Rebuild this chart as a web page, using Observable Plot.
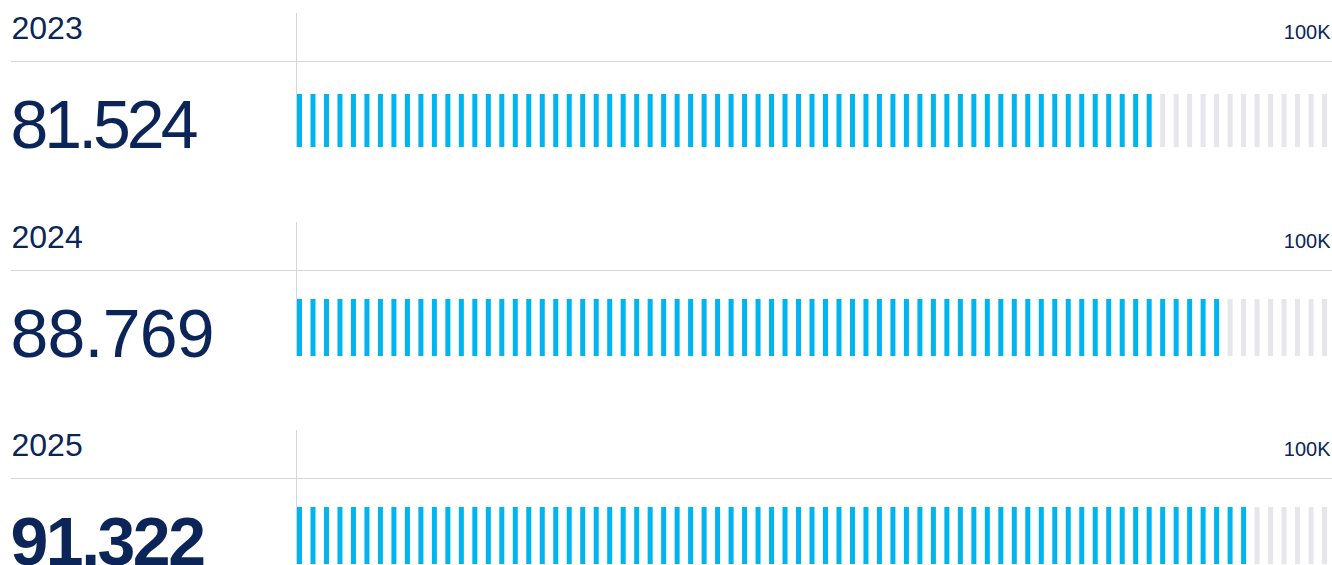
<!DOCTYPE html>
<html><head><meta charset="utf-8">
<script src="https://cdn.jsdelivr.net/npm/d3@7"></script>
<script src="https://cdn.jsdelivr.net/npm/@observablehq/plot@0.6"></script>
<style>
html,body{margin:0;padding:0;background:#fff;overflow:hidden}
#chart{width:1332px;height:565px;overflow:hidden}
#chart svg{display:block}
g[aria-description="value-0"] text{letter-spacing:-4px}
g[aria-description="value-1"] text{letter-spacing:-0.8px}
g[aria-description="value-2"] text{letter-spacing:-2.5px}
</style></head><body><div id="chart"></div>
<script>
// ---- data ----
const years = ["2023", "2024", "2025"];
const values = [81524, 88769, 91322];
const filledTicks = [64, 69, 71];     // highlighted ticks per year
const totalTicks = 77;                // ticks per full bar (= 100K)
const maxLabel = "100K";
const emphasised = [false, false, true];

// ---- style / layout ----
const navy = "#0b2559", blue = "#00b5ef", grey = "#e6e6ec", ruleColor = "#d6d6d6";
const font = "'Liberation Sans', Arial, Helvetica, sans-serif";
const rowHeights = [209, 208, 148];
const barTops = [94, 90, 90];
const frameTop = 13, baseLine = 147, ruleAt = 61, labelX = 11, left = 297, right = 5, W = 1332;
const fmt = v => d3.format(",")(v).replace(/,/g, ".");

const root = document.getElementById("chart");
years.forEach((year, r) => {
  const H = rowHeights[r];
  const span = baseLine - frameTop;
  const ticks = d3.range(totalTicks).map(i => ({i, on: i < filledTicks[r]}));
  const step = (W - left - right - 5) / (totalTicks - 1);
  const pad = 1 - 5 / step;
  const chart = Plot.plot({
    width: W, height: H,
    marginLeft: left, marginRight: right, marginTop: frameTop, marginBottom: H - baseLine,
    style: {fontFamily: font, overflow: "visible", background: "#fff"},
    x: {type: "band", domain: d3.range(totalTicks), paddingInner: pad, paddingOuter: 0, axis: null},
    y: {domain: [0, 1], axis: null},
    marks: [
      Plot.ruleY([(baseLine - ruleAt) / span], {stroke: ruleColor, strokeWidth: 1, insetLeft: -(left - labelX), insetRight: -right}),
      Plot.ruleX([0], {x: d => d, y1: 0, y2: 1, stroke: ruleColor, strokeWidth: 1, dx: -3.5}),
      Plot.barY(ticks.filter(d => d.on), {x: "i", y1: 0, y2: (baseLine - barTops[r]) / span, fill: blue}),
      Plot.barY(ticks.filter(d => !d.on), {x: "i", y1: 0, y2: (baseLine - barTops[r]) / span, fill: grey}),
      Plot.text([year], {text: d => d, frameAnchor: "top-left", dx: -(left - labelX), dy: 25, lineAnchor: "bottom", textAnchor: "start", fontSize: 32, fill: navy}),
      Plot.text([maxLabel], {text: d => d, frameAnchor: "top-right", dx: 3, dy: 25, lineAnchor: "bottom", textAnchor: "end", fontSize: 20, fill: navy}),
      Plot.text([values[r]], {text: d => fmt(d), frameAnchor: "bottom-left", dx: -(left - labelX) - 1, dy: 0, lineAnchor: "bottom", textAnchor: "start", fontSize: 68, fontWeight: emphasised[r] ? 700 : 400, fill: navy, ariaDescription: `value-${r}`})
    ]
  });
  root.appendChild(chart);
});
</script></body></html>
